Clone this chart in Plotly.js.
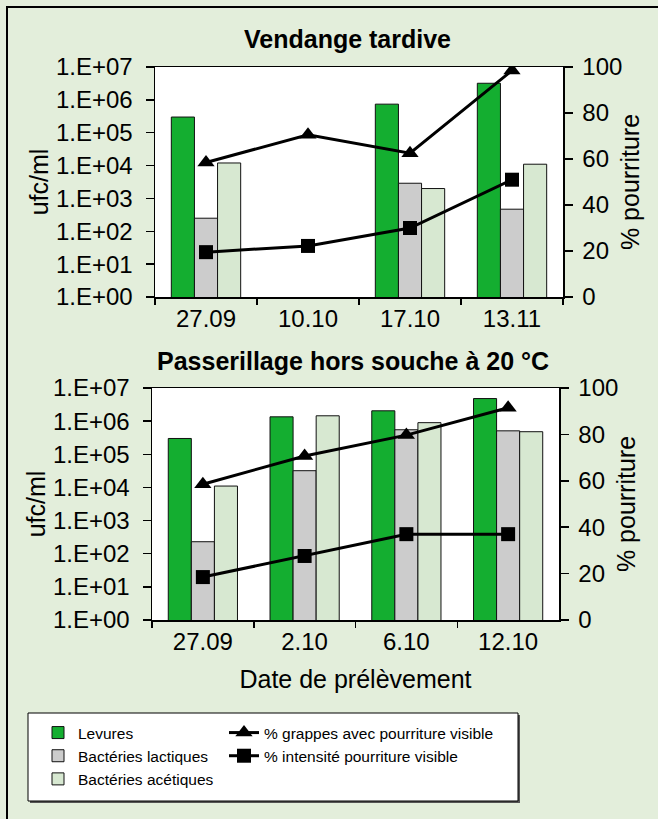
<!DOCTYPE html>
<html>
<head>
<meta charset="utf-8">
<script src="https://cdn.plot.ly/plotly-3.0.1.min.js"></script>
<style>html,body{margin:0;padding:0;background:#e3eedb;}</style>
</head>
<body>
<div id="chart" style="width:658px;height:819px;"></div>
<script>
// ---- Data ----
const datesVT = ['27.09', '10.10', '17.10', '13.11'];
const levuresVT = [3.0e5, null, 7.4e5, 3.2e6];
const lactiquesVT = [250, null, 2.9e3, 470];
const acetiquesVT = [1.2e4, null, 2.0e3, 1.1e4];
const grappesVT = [58.5, 70.5, 62.5, 98.5];
const intensiteVT = [19.5, 22.2, 30, 51];

const datesPH = ['27.09', '2.10', '6.10', '12.10'];
const levuresPH = [3.0e5, 1.35e6, 2.05e6, 4.8e6];
const lactiquesPH = [230, 3.2e4, 5.5e5, 5.1e5];
const acetiquesPH = [1.1e4, 1.45e6, 9.0e5, 4.8e5];
const grappesPH = [58.5, 70.7, 79.7, 91.5];
const intensitePH = [18.5, 27.6, 37, 37];

const logTickVals = [1, 10, 100, 1e3, 1e4, 1e5, 1e6, 1e7];
const logTickText = ['1.E+00', '1.E+01', '1.E+02', '1.E+03', '1.E+04', '1.E+05', '1.E+06', '1.E+07'];
const pctTickVals = [0, 20, 40, 60, 80, 100];

const names = {
  lev: 'Levures', lac: 'Bactéries lactiques', ace: 'Bactéries acétiques',
  gr: '% grappes avec pourriture visible', int: '% intensité pourriture visible'
};
const colors = { lev: '#14ae30', lac: '#cccccc', ace: '#d7e8d1' };

// ---- Helpers ----
const W = 658, H = 819;
const px = v => v / W;
const py = v => 1 - v / H;
const FONT = 'Liberation Sans, Arial, sans-serif';

function barTrace(x, y, key, xa, ya, show) {
  return {
    type: 'bar', x: x, y: y, name: names[key], xaxis: xa, yaxis: ya,
    marker: { color: colors[key], line: { color: '#111', width: 1 } },
    showlegend: show, legend: 'legend', hoverinfo: 'x+y'
  };
}
function lineTrace(x, y, key, sym, xa, ya, show) {
  return {
    type: 'scatter', mode: 'lines+markers', x: x, y: y, name: names[key],
    xaxis: xa, yaxis: ya,
    line: { color: '#000', width: 3 },
    marker: { symbol: sym, size: sym === 'square' ? 14 : 15, color: '#000' },
    showlegend: show, legend: 'legend2', connectgaps: true
  };
}

const data = [
  barTrace(datesVT, levuresVT, 'lev', 'x', 'y', true),
  barTrace(datesVT, lactiquesVT, 'lac', 'x', 'y', true),
  barTrace(datesVT, acetiquesVT, 'ace', 'x', 'y', true),
  lineTrace(datesVT, grappesVT, 'gr', 'triangle-up', 'x', 'y2', true),
  lineTrace(datesVT, intensiteVT, 'int', 'square', 'x', 'y2', true),
  barTrace(datesPH, levuresPH, 'lev', 'x2', 'y3', false),
  barTrace(datesPH, lactiquesPH, 'lac', 'x2', 'y3', false),
  barTrace(datesPH, acetiquesPH, 'ace', 'x2', 'y3', false),
  lineTrace(datesPH, grappesPH, 'gr', 'triangle-up', 'x2', 'y4', false),
  lineTrace(datesPH, intensitePH, 'int', 'square', 'x2', 'y4', false)
];

const tickFont = { family: FONT, size: 24, color: '#000' };
const titleFont = { family: FONT, size: 25, color: '#000' };

function xAxis(domain, anchor, cats, title) {
  const ax = {
    domain: domain, anchor: anchor, type: 'category',
    categoryorder: 'array', categoryarray: cats,
    showline: true, linecolor: '#000', linewidth: 1.5, mirror: true,
    ticks: 'outside', tickson: 'boundaries', ticklen: 6, tickcolor: '#000', tickwidth: 1.5,
    tickfont: tickFont, showgrid: false, zeroline: false, fixedrange: true
  };
  if (title) ax.title = { text: title, font: titleFont, standoff: 16 };
  return ax;
}
function yLog(domain, anchor) {
  return {
    domain: domain, anchor: anchor, type: 'log', range: [0, 7],
    tickvals: logTickVals, ticktext: logTickText,
    showline: true, linecolor: '#000', linewidth: 1.5,
    ticks: 'outside', ticklen: 8, tickcolor: '#000', tickwidth: 1.5,
    ticklabelstandoff: 8,
    tickfont: tickFont, showgrid: false, zeroline: false,
    title: { text: 'ufc/ml', font: titleFont, standoff: 0 }, fixedrange: true
  };
}
function yPct(overlay, anchor) {
  return {
    overlaying: overlay, anchor: anchor, side: 'right', range: [0, 100],
    tickvals: pctTickVals,
    showline: true, linecolor: '#000', linewidth: 1.5,
    ticks: 'outside', ticklen: 8, tickcolor: '#000', tickwidth: 1.5,
    ticklabelstandoff: 5,
    tickfont: tickFont, showgrid: false, zeroline: false,
    title: { text: '% pourriture', font: titleFont, standoff: 0 }, fixedrange: true
  };
}

const legendFont = { family: FONT, size: 15.5, color: '#000' };

const layout = {
  width: W, height: H,
  margin: { l: 0, r: 0, t: 0, b: 0 },
  paper_bgcolor: '#e3eedb', plot_bgcolor: '#ffffff',
  font: { family: FONT, color: '#000' },
  barmode: 'group', bargap: 0.32, bargroupgap: 0,
  xaxis: xAxis([px(155), px(563)], 'y', datesVT, null),
  yaxis: yLog([py(297), py(67)], 'x'),
  yaxis2: yPct('y', 'x'),
  xaxis2: xAxis([px(152), px(559)], 'y3', datesPH, 'Date de prélèvement'),
  yaxis3: yLog([py(620), py(388)], 'x2'),
  yaxis4: yPct('y3', 'x2'),
  legend: {
    x: px(38), y: py(716), xanchor: 'left', yanchor: 'top',
    orientation: 'v', bgcolor: 'rgba(0,0,0,0)', borderwidth: 0,
    font: legendFont, tracegroupgap: 0, itemclick: false, itemdoubleclick: false
  },
  legend2: {
    x: px(224), y: py(716), xanchor: 'left', yanchor: 'top',
    orientation: 'v', bgcolor: 'rgba(0,0,0,0)', borderwidth: 0,
    font: legendFont, tracegroupgap: 0, itemclick: false, itemdoubleclick: false
  },
  annotations: [
    { text: '<b>Vendange tardive</b>', xref: 'paper', yref: 'paper', x: px(347), y: py(39),
      xanchor: 'center', yanchor: 'middle', showarrow: false,
      font: { family: FONT, size: 25, color: '#000' } },
    { text: '<b>Passerillage hors souche à 20 °C</b>', xref: 'paper', yref: 'paper', x: px(353), y: py(361),
      xanchor: 'center', yanchor: 'middle', showarrow: false,
      font: { family: FONT, size: 25, color: '#000' } }
  ],
  shapes: [
    // outer frame (top and left edges visible)
    { type: 'line', xref: 'paper', yref: 'paper', x0: px(6), x1: 1, y0: py(7), y1: py(7), line: { color: '#000', width: 2 } },
    { type: 'line', xref: 'paper', yref: 'paper', x0: px(7), x1: px(7), y0: py(7), y1: 0, line: { color: '#000', width: 2 } },
    // legend box shadow and box
    { type: 'rect', xref: 'paper', yref: 'paper', x0: px(30), x1: px(520), y0: py(803), y1: py(715),
      fillcolor: '#555', line: { width: 0 }, layer: 'below' },
    { type: 'rect', xref: 'paper', yref: 'paper', x0: px(28), x1: px(518), y0: py(801), y1: py(713),
      fillcolor: '#ffffff', line: { color: '#000', width: 1 }, layer: 'below' }
  ]
};

Plotly.newPlot('chart', data, layout, { displayModeBar: false, staticPlot: true });
</script>
</body>
</html>
